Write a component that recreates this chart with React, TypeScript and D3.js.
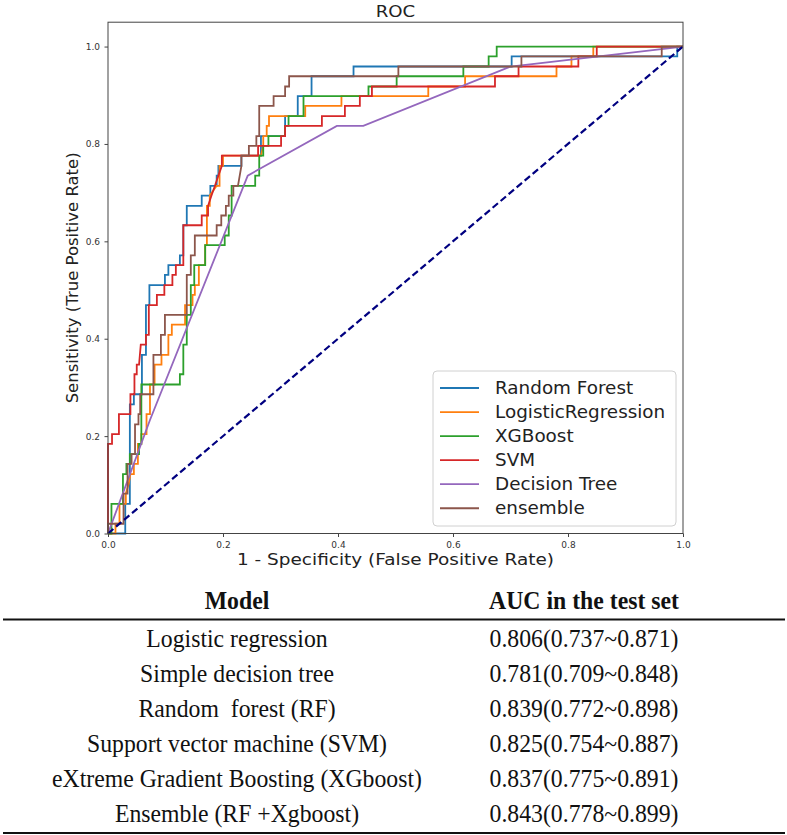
import React, { useEffect, useRef } from "react";
import * as d3 from "d3";

type Pt = [number, number];

const xTicks = [0, 0.2, 0.4, 0.6, 0.8, 1.0];
const yTicks = [0, 0.2, 0.4, 0.6, 0.8, 1.0];

const seriesNames = ["Random Forest", "LogisticRegression", "XGBoost", "SVM", "Decision Tree", "ensemble"];
const seriesColors = ["#1f77b4", "#ff7f0e", "#2ca02c", "#d62728", "#9467bd", "#8c564b"];

const randomForestRoc: Pt[] = [
  [0, 0], [0.030, 0], [0.030, 0.061], [0.038, 0.061], [0.038, 0.265], [0.045, 0.265], [0.045, 0.286],
  [0.059, 0.286], [0.059, 0.367], [0.066, 0.367], [0.066, 0.469], [0.072, 0.469], [0.072, 0.510],
  [0.099, 0.510], [0.099, 0.531], [0.105, 0.531], [0.105, 0.551], [0.125, 0.551], [0.125, 0.571],
  [0.131, 0.571], [0.131, 0.633], [0.137, 0.633], [0.137, 0.673], [0.163, 0.673], [0.163, 0.694],
  [0.178, 0.694], [0.178, 0.714], [0.189, 0.714], [0.189, 0.735], [0.192, 0.735], [0.192, 0.755],
  [0.232, 0.755], [0.232, 0.776], [0.266, 0.776], [0.266, 0.816], [0.308, 0.816], [0.308, 0.857],
  [0.330, 0.857], [0.330, 0.898], [0.354, 0.898], [0.354, 0.939], [0.427, 0.939], [0.427, 0.959],
  [0.702, 0.959], [0.702, 0.980], [0.990, 0.980], [0.990, 1], [1, 1],
];

const logisticRoc: Pt[] = [
  [0, 0], [0.013, 0], [0.013, 0.020], [0.020, 0.020], [0.020, 0.061], [0.031, 0.061], [0.031, 0.082],
  [0.036, 0.102], [0.039, 0.122], [0.045, 0.122], [0.045, 0.143], [0.052, 0.143], [0.052, 0.184],
  [0.058, 0.184], [0.058, 0.204], [0.067, 0.204], [0.067, 0.245], [0.073, 0.245], [0.073, 0.306],
  [0.081, 0.306], [0.081, 0.347], [0.093, 0.347], [0.093, 0.367], [0.105, 0.367], [0.105, 0.408],
  [0.111, 0.408], [0.111, 0.429], [0.134, 0.429], [0.134, 0.469], [0.147, 0.469], [0.147, 0.490],
  [0.151, 0.490], [0.151, 0.510], [0.158, 0.510], [0.158, 0.551], [0.169, 0.551], [0.169, 0.592],
  [0.172, 0.592], [0.172, 0.673], [0.177, 0.673], [0.177, 0.694], [0.189, 0.714], [0.194, 0.714],
  [0.194, 0.755], [0.200, 0.755], [0.200, 0.776], [0.266, 0.776], [0.270, 0.796], [0.270, 0.816],
  [0.276, 0.816], [0.276, 0.837], [0.280, 0.837], [0.280, 0.857], [0.343, 0.857], [0.343, 0.878],
  [0.406, 0.878], [0.406, 0.898], [0.557, 0.898], [0.557, 0.918], [0.621, 0.918], [0.621, 0.939],
  [0.780, 0.939], [0.780, 0.959], [0.806, 0.959], [0.806, 0.980], [0.844, 0.980], [0.844, 1], [1, 1],
];

const xgboostRoc: Pt[] = [
  [0, 0], [0.006, 0], [0.006, 0.061], [0.026, 0.061], [0.026, 0.122], [0.032, 0.122], [0.032, 0.143],
  [0.038, 0.143], [0.038, 0.163], [0.054, 0.163], [0.054, 0.184], [0.058, 0.184], [0.058, 0.306],
  [0.125, 0.306], [0.125, 0.327], [0.131, 0.327], [0.131, 0.388], [0.137, 0.388], [0.137, 0.449],
  [0.144, 0.449], [0.144, 0.510], [0.150, 0.510], [0.150, 0.551], [0.169, 0.551], [0.169, 0.592],
  [0.203, 0.592], [0.203, 0.612], [0.210, 0.612], [0.210, 0.653], [0.215, 0.653], [0.215, 0.714],
  [0.256, 0.714], [0.256, 0.735], [0.263, 0.735], [0.263, 0.776], [0.270, 0.776], [0.270, 0.796],
  [0.279, 0.796], [0.279, 0.816], [0.308, 0.816], [0.308, 0.837], [0.314, 0.837], [0.314, 0.857],
  [0.340, 0.857], [0.340, 0.898], [0.453, 0.898], [0.453, 0.918], [0.502, 0.918], [0.502, 0.939],
  [0.618, 0.939], [0.618, 0.959], [0.662, 0.959], [0.662, 0.980], [0.676, 0.980], [0.676, 1], [1, 1],
];

const svmRoc: Pt[] = [
  [0, 0], [0, 0.184], [0.007, 0.184], [0.007, 0.204], [0.019, 0.204], [0.019, 0.245], [0.039, 0.245],
  [0.039, 0.286], [0.046, 0.286], [0.046, 0.327], [0.050, 0.327], [0.050, 0.347], [0.054, 0.347],
  [0.057, 0.388], [0.066, 0.388], [0.066, 0.408], [0.071, 0.408], [0.071, 0.469], [0.085, 0.469],
  [0.085, 0.490], [0.098, 0.490], [0.098, 0.510], [0.112, 0.510], [0.112, 0.531], [0.118, 0.531],
  [0.118, 0.551], [0.131, 0.551], [0.131, 0.633], [0.163, 0.633], [0.163, 0.653], [0.174, 0.653],
  [0.174, 0.673], [0.180, 0.694], [0.186, 0.714], [0.192, 0.735], [0.198, 0.755], [0.198, 0.776],
  [0.261, 0.776], [0.261, 0.796], [0.301, 0.796], [0.301, 0.816], [0.308, 0.816], [0.308, 0.837],
  [0.372, 0.837], [0.372, 0.857], [0.412, 0.857], [0.412, 0.878], [0.438, 0.878], [0.438, 0.898],
  [0.459, 0.898], [0.459, 0.918], [0.673, 0.918], [0.673, 0.939], [0.714, 0.939], [0.714, 0.959],
  [0.818, 0.959], [0.818, 0.980], [0.850, 0.980], [0.850, 1], [1, 1],
];

const decisionTreeRoc: Pt[] = [
  [0, 0], [0.073, 0.233], [0.243, 0.735], [0.398, 0.837], [0.444, 0.837], [0.700, 0.959], [1, 1],
];

const ensembleRoc: Pt[] = [
  [0, 0], [0, 0.020], [0.027, 0.020], [0.027, 0.082], [0.034, 0.082], [0.034, 0.143], [0.041, 0.143],
  [0.041, 0.163], [0.047, 0.163], [0.047, 0.224], [0.053, 0.224], [0.053, 0.245], [0.056, 0.245],
  [0.056, 0.286], [0.079, 0.286], [0.079, 0.367], [0.092, 0.367], [0.092, 0.408], [0.099, 0.408],
  [0.099, 0.449], [0.137, 0.449], [0.137, 0.531], [0.144, 0.531], [0.144, 0.571], [0.151, 0.571],
  [0.151, 0.612], [0.189, 0.612], [0.189, 0.633], [0.197, 0.633], [0.197, 0.653], [0.205, 0.653],
  [0.205, 0.673], [0.210, 0.673], [0.210, 0.694], [0.218, 0.694], [0.218, 0.714], [0.226, 0.714],
  [0.232, 0.755], [0.232, 0.776], [0.245, 0.776], [0.245, 0.796], [0.258, 0.796], [0.258, 0.816],
  [0.263, 0.816], [0.263, 0.878], [0.288, 0.878], [0.288, 0.898], [0.308, 0.898], [0.308, 0.918],
  [0.315, 0.918], [0.315, 0.939], [0.505, 0.939], [0.505, 0.959], [0.719, 0.959], [0.719, 0.980],
  [0.963, 0.980], [0.963, 1], [1, 1],
];

const chanceLine: Pt[] = [[0, 0], [1, 1]];

const seriesData = [randomForestRoc, logisticRoc, xgboostRoc, svmRoc, decisionTreeRoc, ensembleRoc];

const tableHeaders = ["Model", "AUC in the test set"];
const tableModels = [
  "Logistic regression",
  "Simple decision tree",
  "Random  forest (RF)",
  "Support vector machine (SVM)",
  "eXtreme Gradient Boosting (XGboost)",
  "Ensemble (RF +Xgboost)",
];
const tableAuc = [
  "0.806(0.737~0.871)",
  "0.781(0.709~0.848)",
  "0.839(0.772~0.898)",
  "0.825(0.754~0.887)",
  "0.837(0.775~0.891)",
  "0.843(0.778~0.899)",
];

const SANS = "DejaVu Sans, Liberation Sans, sans-serif";
const SERIF = "Liberation Serif, Times New Roman, serif";

export default function App() {
  const xAxisRef = useRef<SVGGElement>(null);
  const yAxisRef = useRef<SVGGElement>(null);

  const left = 108, right = 683, top = 22.2, bottom = 533.5;
  const x = d3.scaleLinear().domain([0, 1]).range([left, right]);
  const y = d3.scaleLinear().domain([0, 1.05]).range([bottom, top]);
  const line = d3.line<Pt>().x((d) => x(d[0])).y((d) => y(d[1]));

  useEffect(() => {
    const gx = d3.select(xAxisRef.current as SVGGElement);
    gx.selectAll("*").remove();
    gx.call(
      d3.axisBottom(x).tickValues(xTicks).tickFormat(d3.format(".1f")).tickSize(3.5).tickPadding(5)
    );
    gx.select(".domain").remove();
    gx.selectAll(".tick line").attr("stroke", "#444").attr("stroke-width", 1);
    gx.selectAll(".tick text").attr("font-size", 9).attr("font-family", SANS).attr("fill", "#333");

    const gy = d3.select(yAxisRef.current as SVGGElement);
    gy.selectAll("*").remove();
    gy.call(
      d3.axisLeft(y).tickValues(yTicks).tickFormat(d3.format(".1f")).tickSize(3.5).tickPadding(4.5)
    );
    gy.select(".domain").remove();
    gy.selectAll(".tick line").attr("stroke", "#444").attr("stroke-width", 1);
    gy.selectAll(".tick text").attr("font-size", 9).attr("font-family", SANS).attr("fill", "#333");
  }, []);

  const legendTop = 371;
  const legendRow = 24.05;
  const tableRow = 35;
  const colModel = 237;
  const colAuc = 584;
  const tableScale = 0.95;

  return (
    <svg
      width={787}
      height={835}
      style={{ position: "absolute", left: 0, top: 0, display: "block", background: "#fff" }}
    >
      <rect x={0} y={0} width={787} height={835} fill="#fff" />
      {/* title */}
      <text
        transform={`translate(${(left + right) / 2},17) scale(1.1,1)`}
        textAnchor="middle"
        fontFamily={SANS}
        fontSize={16.5}
        fill="#222"
      >
        ROC
      </text>

      {/* curves */}
      {seriesData.map((d, i) => (
        <path
          key={seriesNames[i]}
          d={line(d) || ""}
          fill="none"
          stroke={seriesColors[i]}
          strokeWidth={1.8}
          strokeLinejoin="miter"
        />
      ))}
      <path
        d={line(chanceLine) || ""}
        fill="none"
        stroke="#000080"
        strokeWidth={2.2}
        strokeDasharray="7,3.5"
      />

      {/* frame */}
      <rect x={left} y={top} width={right - left} height={bottom - top} fill="none" stroke="#444" strokeWidth={1} />

      <g ref={xAxisRef} transform={`translate(0,${bottom})`} />
      <g ref={yAxisRef} transform={`translate(${left},0)`} />

      {/* axis labels */}
      <text
        transform={`translate(${(left + right) / 2},565) scale(1.12,1)`}
        textAnchor="middle"
        fontFamily={SANS}
        fontSize={16.5}
        fill="#222"
      >
        1 - Specificity (False Positive Rate)
      </text>
      <text
        transform={`translate(78,${(top + bottom) / 2}) rotate(-90)`}
        textAnchor="middle"
        fontFamily={SANS}
        fontSize={16.5}
        fill="#222"
      >
        Sensitivity (True Positive Rate)
      </text>

      {/* legend */}
      <rect
        x={433}
        y={legendTop}
        width={243}
        height={526 - legendTop}
        rx={4}
        fill="#fff"
        fillOpacity={0.8}
        stroke="#d0d0d0"
        strokeWidth={1}
      />
      {seriesNames.map((name, i) => {
        const cy = legendTop + 17 + i * legendRow;
        return (
          <g key={name}>
            <line x1={440} x2={479} y1={cy} y2={cy} stroke={seriesColors[i]} strokeWidth={1.8} />
            <text
              transform={`translate(495,${cy}) scale(1.08,1)`}
              dominantBaseline="central"
              fontFamily={SANS}
              fontSize={17}
              fill="#222"
            >
              {name}
            </text>
          </g>
        );
      })}

      {/* table */}
      {tableHeaders.map((h, i) => (
        <text
          key={h}
          transform={`translate(${i === 0 ? colModel : colAuc},609) scale(${tableScale},1)`}
          textAnchor="middle"
          fontFamily={SERIF}
          fontWeight="bold"
          fontSize={25}
          fill="#111"
        >
          {h}
        </text>
      ))}
      <line x1={3} x2={785} y1={619.5} y2={619.5} stroke="#111" strokeWidth={2.2} />
      {tableModels.map((m, i) => (
        <g key={m}>
          <text
            transform={`translate(${colModel},${647 + i * tableRow}) scale(${tableScale},1)`}
            textAnchor="middle"
            fontFamily={SERIF}
            fontSize={25}
            fill="#111"
            style={{ whiteSpace: "pre" }}
          >
            {m}
          </text>
          <text
            transform={`translate(${colAuc},${647 + i * tableRow}) scale(${tableScale},1)`}
            textAnchor="middle"
            fontFamily={SERIF}
            fontSize={25}
            fill="#111"
          >
            {tableAuc[i]}
          </text>
        </g>
      ))}
      <line x1={3} x2={785} y1={833} y2={833} stroke="#111" strokeWidth={2.2} />
    </svg>
  );
}
